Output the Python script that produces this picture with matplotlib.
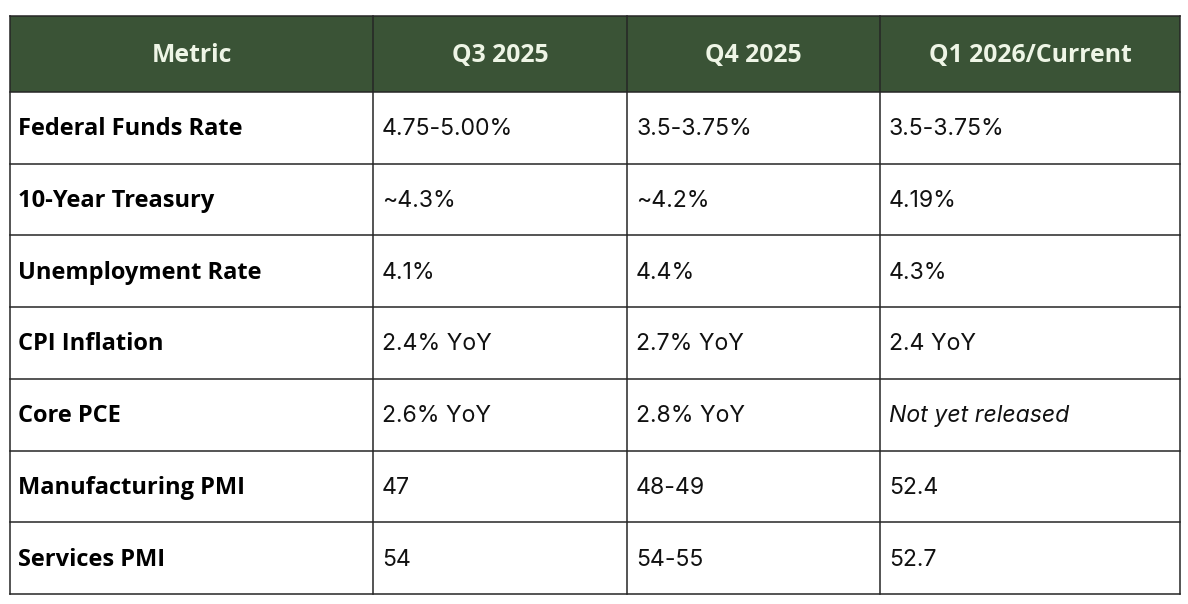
import matplotlib.pyplot as plt
from matplotlib.patches import Rectangle

headers = ["Metric", "Q3 2025", "Q4 2025", "Q1 2026/Current"]
metrics = ["Federal Funds Rate", "10-Year Treasury", "Unemployment Rate",
           "CPI Inflation", "Core PCE", "Manufacturing PMI", "Services PMI"]
q3_2025 = ["4.75-5.00%", "~4.3%", "4.1%", "2.4% YoY", "2.6% YoY", "47", "54"]
q4_2025 = ["3.5-3.75%", "~4.2%", "4.4%", "2.7% YoY", "2.8% YoY", "48-49", "54-55"]
q1_2026 = ["3.5-3.75%", "4.19%", "4.3%", "2.4 YoY", "Not yet released", "52.4", "52.7"]

# layout in pixels
W, H = 1188, 604
col_x = [10, 373, 627, 880, 1180]
top, head_bot, bottom = 16, 92, 594
row_h = (bottom - head_bot) / len(metrics)

header_bg = "#3a5336"
header_fg = "#eef5e6"
line_col = "#262626"

fig = plt.figure(figsize=(W / 100, H / 100), dpi=100)
ax = fig.add_axes([0, 0, 1, 1])
ax.set_xlim(0, W)
ax.set_ylim(H, 0)
ax.axis("off")

# header
ax.add_patch(Rectangle((col_x[0], top), col_x[-1] - col_x[0], head_bot - top,
                       facecolor=header_bg, edgecolor="none"))
for i, h in enumerate(headers):
    cx = (col_x[i] + col_x[i + 1]) / 2
    ax.text(cx, (top + head_bot) / 2 + 1.5, h, ha="center", va="center",
            color=header_fg, fontsize=17.8, fontweight="bold", family="Open Sans")

# body
columns = [q3_2025, q4_2025, q1_2026]
for r, m in enumerate(metrics):
    cy = head_bot + row_h * (r + 0.5) + 1.5
    ax.text(col_x[0] + 8, cy, m, ha="left", va="center", color="black",
            fontsize=17, fontweight="bold", family="Open Sans")
    for c, vals in enumerate(columns):
        v = vals[r]
        style = "italic" if v == "Not yet released" else "normal"
        ax.text(col_x[c + 1] + 9, cy, v, ha="left", va="center", color="#111111",
                fontsize=16.6, style=style, family="Inter")

# grid lines
for r in range(len(metrics) + 1):
    y = head_bot + row_h * r
    ax.plot([col_x[0], col_x[-1]], [y, y], color=line_col, lw=1.1)
ax.plot([col_x[0], col_x[-1]], [top, top], color=line_col, lw=1.1)
for x in col_x:
    ax.plot([x, x], [top, bottom], color=line_col, lw=1.1)

fig.savefig("out.png", dpi=100, facecolor="white")
